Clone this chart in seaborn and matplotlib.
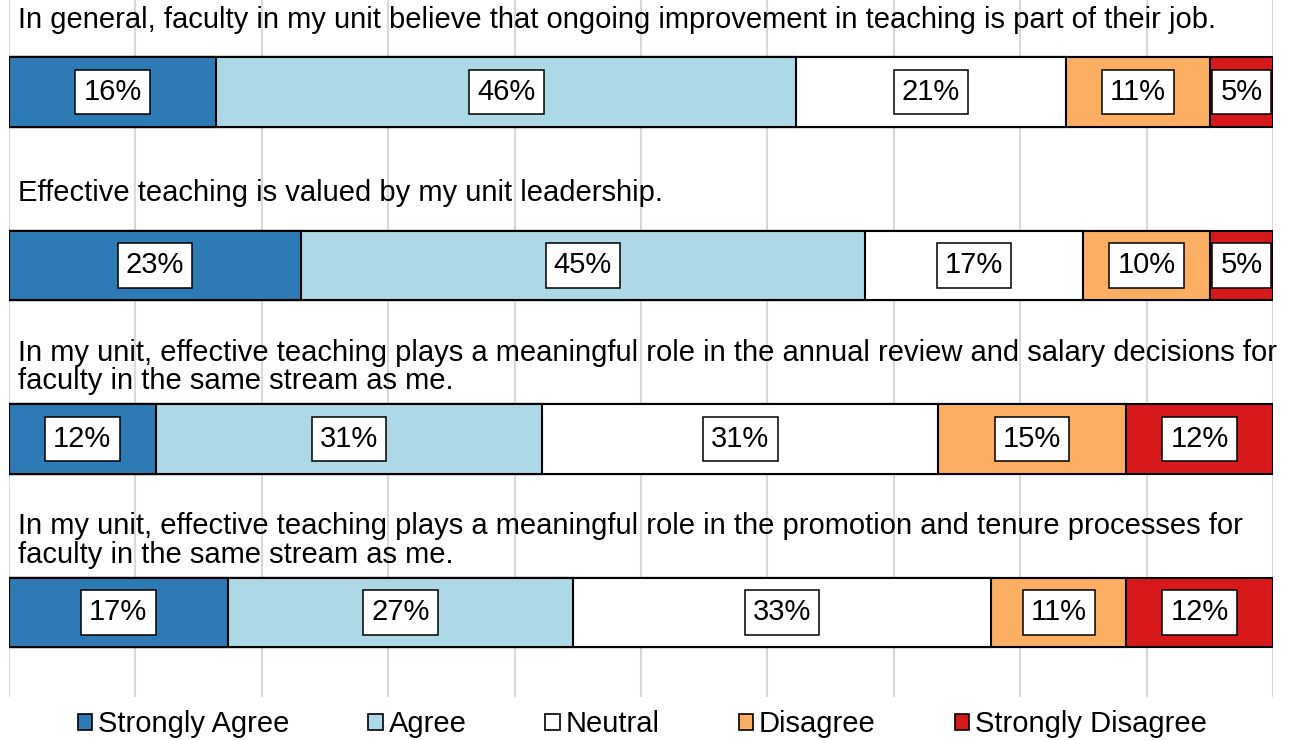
import numpy as np
import pandas as pd
import matplotlib
matplotlib.use("Agg")
import matplotlib.pyplot as plt
from matplotlib.patches import Patch
import seaborn as sns

# Survey statements (drawn above each bar)
questions = [
    "In general, faculty in my unit believe that ongoing improvement in teaching is part of their job.",
    "Effective teaching is valued by my unit leadership.",
    "In my unit, effective teaching plays a meaningful role in the annual review and salary decisions for\nfaculty in the same stream as me.",
    "In my unit, effective teaching plays a meaningful role in the promotion and tenure processes for\nfaculty in the same stream as me.",
]
responses = ["Strongly Agree", "Agree", "Neutral", "Disagree", "Strongly Disagree"]

# Percent of respondents per response, one list per response category
strongly_agree = [16.4, 23.1, 11.6, 17.3]
agree = [45.9, 44.6, 30.6, 27.3]
neutral = [21.3, 17.3, 31.3, 33.1]
disagree = [11.4, 10.0, 14.9, 10.7]
strongly_disagree = [5.0, 5.0, 11.6, 11.6]

colors = ["#2E7AB5", "#ADD8E6", "#FFFFFF", "#FCAF62", "#D7191C"]

sns.set_theme(style="white")
plt.rcParams["font.family"] = ["Liberation Sans", "DejaVu Sans"]
plt.rcParams["text.color"] = "black"

FS = 21

series = [strongly_agree, agree, neutral, disagree, strongly_disagree]
vals = np.array(series)            # shape (5, 4)
cum = np.cumsum(vals, axis=0)      # right edge of each segment
keys = [f"q{i}" for i in range(len(questions))]

fig = plt.figure(figsize=(12.95, 7.40), dpi=100)
ax = fig.add_axes([9 / 1295, 43 / 740, 1264 / 1295, 697 / 740])

# vertical gridlines behind the bars
for gx in range(0, 101, 10):
    ax.axvline(gx, color="#D9D9D9", lw=1.5, zorder=0)

# stacked bars: draw cumulative totals from the right-most segment inward
for k in range(len(responses) - 1, -1, -1):
    df = pd.DataFrame({"q": keys, "v": cum[k]})
    sns.barplot(data=df, x="v", y="q", orient="h", color=colors[k],
                saturation=1, width=0.403, edgecolor="black", linewidth=1.5,
                ax=ax, zorder=2)

# value labels in white boxes at segment centres
for k in range(len(responses)):
    for i in range(len(questions)):
        center = cum[k, i] - vals[k, i] / 2
        ax.text(center, i, f"{vals[k, i]:.0f}%", ha="center", va="center",
                fontsize=FS, color="black", zorder=5,
                bbox=dict(boxstyle="square,pad=0.28", fc="white", ec="black", lw=1.1))

# statement text above each bar
for i, q in enumerate(questions):
    ax.text(0.75, i - 0.415, q, ha="left", va="center", fontsize=FS,
            color="black", linespacing=1.03, zorder=5)

ax.set_xlim(0, 100)
ax.set_ylim(3.487, -0.53)
ax.set_xlabel("")
ax.set_ylabel("")
ax.set_xticks([])
ax.set_yticks([])
for s in ax.spines.values():
    s.set_visible(False)
ax.patch.set_alpha(0)

handles = [Patch(facecolor=c, edgecolor="black", lw=1.2) for c in colors]
leg = fig.legend(handles, responses, loc="center", bbox_to_anchor=(0.496, 0.021),
                 ncol=5, frameon=False, fontsize=FS, handlelength=0.5, handleheight=0.5,
                 handletextpad=0.2, columnspacing=2.7, borderaxespad=0)
for t in leg.get_texts():
    t.set_color("black")

fig.savefig("out.png", dpi=100)
